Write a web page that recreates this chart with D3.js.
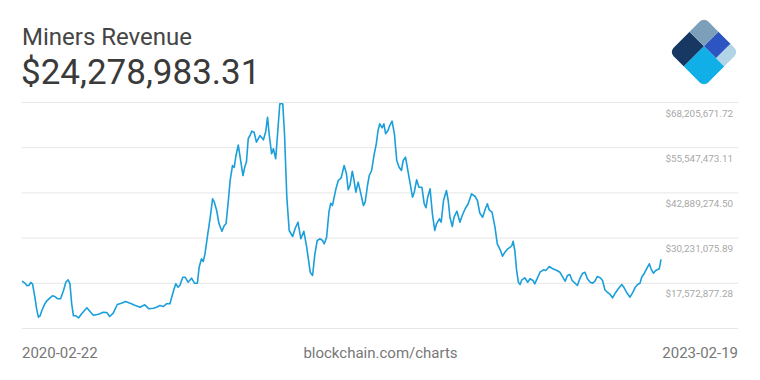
<!DOCTYPE html>
<html>
<head>
<meta charset="utf-8">
<script src="https://cdn.jsdelivr.net/npm/d3@7"></script>
<style>
  html, body { margin: 0; padding: 0; background: #fff; }
  svg { display: block; font-family: Roboto, "Noto Sans", sans-serif; }
</style>
</head>
<body>
<svg id="chart" width="760" height="380"></svg>
<script>
const title = "Miners Revenue";
const currentValue = "$24,278,983.31";
const startLabel = "2020-02-22";
const endLabel = "2023-02-19";
const sourceLabel = "blockchain.com/charts";

const yMin = 4914678.67;
const tickValues = [17572877.28, 30231075.89, 42889274.50, 55547473.11, 68205671.72];
const tickLabels = ["$17,572,877.28", "$30,231,075.89", "$42,889,274.50", "$55,547,473.11", "$68,205,671.72"];

const dates = [
"2020-02-22","2020-02-27","2020-03-02","2020-03-05","2020-03-08","2020-03-11","2020-03-15","2020-03-18","2020-03-21","2020-03-24",
"2020-03-27","2020-04-01","2020-04-04","2020-04-10","2020-04-14","2020-04-18","2020-04-23","2020-04-28","2020-05-03","2020-05-07",
"2020-05-11","2020-05-14","2020-05-17","2020-05-20","2020-05-24","2020-05-29","2020-06-03","2020-06-12","2020-06-17","2020-06-23",
"2020-06-30","2020-07-04","2020-07-10","2020-07-16","2020-07-21","2020-07-27","2020-08-03","2020-08-10","2020-08-17","2020-08-25",
"2020-09-02","2020-09-11","2020-09-19","2020-09-26","2020-10-04","2020-10-09","2020-10-15","2020-10-21","2020-10-26","2020-11-01",
"2020-11-07","2020-11-11","2020-11-15","2020-11-18","2020-11-23","2020-11-27","2020-12-02","2020-12-08","2020-12-13","2020-12-18",
"2020-12-21","2020-12-25","2020-12-28","2020-12-31","2021-01-04","2021-01-09","2021-01-13","2021-01-16","2021-01-20","2021-01-24",
"2021-01-29","2021-02-02","2021-02-05","2021-02-09","2021-02-12","2021-02-16","2021-02-19","2021-02-22","2021-02-26","2021-03-02",
"2021-03-06","2021-03-09","2021-03-12","2021-03-15","2021-03-18","2021-03-21","2021-03-25","2021-03-29","2021-04-04","2021-04-10",
"2021-04-14","2021-04-17","2021-04-20","2021-04-24","2021-04-27","2021-05-01","2021-05-05","2021-05-08","2021-05-13","2021-05-16",
"2021-05-20","2021-05-24","2021-05-30","2021-06-03","2021-06-08","2021-06-13","2021-06-18","2021-06-23","2021-06-29","2021-07-03",
"2021-07-07","2021-07-11","2021-07-16","2021-07-20","2021-07-23","2021-07-27","2021-07-31","2021-08-03","2021-08-06","2021-08-12",
"2021-08-16","2021-08-21","2021-08-26","2021-08-30","2021-09-02","2021-09-05","2021-09-09","2021-09-12","2021-09-15","2021-09-19",
"2021-09-23","2021-09-28","2021-10-01","2021-10-05","2021-10-08","2021-10-12","2021-10-16","2021-10-20","2021-10-23","2021-10-26",
"2021-10-30","2021-11-02","2021-11-05","2021-11-09","2021-11-12","2021-11-16","2021-11-20","2021-11-24","2021-11-28","2021-12-02",
"2021-12-05","2021-12-09","2021-12-13","2021-12-17","2021-12-21","2021-12-24","2021-12-28","2022-01-01","2022-01-06","2022-01-10",
"2022-01-13","2022-01-16","2022-01-20","2022-01-24","2022-01-28","2022-01-31","2022-02-05","2022-02-08","2022-02-12","2022-02-17",
"2022-02-20","2022-02-23","2022-02-27","2022-03-02","2022-03-07","2022-03-12","2022-03-16","2022-03-21","2022-03-26","2022-04-01",
"2022-04-07","2022-04-11","2022-04-15","2022-04-20","2022-04-24","2022-04-28","2022-05-01","2022-05-06","2022-05-11","2022-05-15",
"2022-05-20","2022-05-24","2022-05-28","2022-06-02","2022-06-06","2022-06-09","2022-06-11","2022-06-14","2022-06-17","2022-06-20",
"2022-06-23","2022-06-26","2022-07-01","2022-07-06","2022-07-10","2022-07-15","2022-07-18","2022-07-22","2022-07-27","2022-08-02",
"2022-08-06","2022-08-12","2022-08-18","2022-08-25","2022-08-30","2022-09-04","2022-09-08","2022-09-12","2022-09-16","2022-09-20",
"2022-09-25","2022-09-29","2022-10-03","2022-10-08","2022-10-12","2022-10-16","2022-10-21","2022-10-25","2022-10-29","2022-11-02",
"2022-11-07","2022-11-11","2022-11-15","2022-11-19","2022-11-24","2022-11-28","2022-12-02","2022-12-08","2022-12-14","2022-12-18",
"2022-12-22","2022-12-28","2023-01-02","2023-01-06","2023-01-10","2023-01-14","2023-01-17","2023-01-21","2023-01-24","2023-01-27",
"2023-01-30","2023-02-02","2023-02-06","2023-02-10","2023-02-16","2023-02-19"
];

// Miners revenue, millions of USD
const revenue = [
18.16,17.60,16.87,17.04,17.80,17.43,13.68,10.43,8.08,8.47,
9.96,11.83,12.56,13.51,14.07,13.88,13.23,13.23,15.56,17.88,
18.55,17.43,11.83,8.47,8.47,7.91,9.03,10.71,9.76,8.64,
8.84,9.03,9.48,9.40,8.28,9.20,11.64,12.00,12.48,12.00,
11.44,10.88,11.55,10.43,10.60,10.88,11.36,11.08,11.83,11.83,
15.36,17.43,16.48,16.96,19.28,19.28,17.88,19.00,17.60,17.60,
22.08,24.43,23.68,25.83,30.48,36.08,41.24,40.28,37.96,34.24,
32.16,33.76,34.24,40.76,46.36,50.56,50.00,53.36,56.30,51.96,
47.76,50.09,51.68,58.12,58.96,60.17,59.89,57.09,58.96,57.76,
60.17,64.09,58.96,53.84,55.24,52.44,61.29,67.84,67.84,59.44,
41.69,32.36,30.68,32.84,34.68,30.04,32.16,27.68,20.68,19.76,
25.83,29.56,30.04,29.56,28.63,30.48,37.48,40.00,39.36,44.04,
46.36,47.12,50.56,48.24,43.76,44.96,48.97,46.36,43.09,45.89,
43.09,39.36,40.28,44.96,47.76,49.16,53.36,56.64,60.36,62.24,
61.12,62.24,59.44,60.36,61.76,62.97,59.44,51.96,50.09,49.16,
51.96,52.89,49.16,45.44,41.69,43.09,46.56,44.49,44.49,39.84,
38.72,41.69,44.04,37.04,32.36,34.24,35.64,34.68,40.76,43.56,
40.76,36.08,33.48,36.08,37.76,34.68,36.56,38.44,39.78,42.64,
41.88,40.76,37.26,36.08,38.16,39.84,38.16,37.48,33.28,28.63,
26.95,25.16,26.28,27.23,27.68,28.16,29.36,26.76,21.16,17.88,
17.24,18.55,19.11,17.88,18.83,18.36,17.43,18.83,20.68,21.35,
21.16,22.28,21.63,21.16,20.68,19.28,18.16,19.76,20.04,18.36,
17.60,16.96,18.83,20.40,20.68,18.83,17.88,17.60,18.16,19.48,
19.11,18.36,15.75,15.08,14.44,13.51,14.63,16.03,17.24,16.31,
15.08,13.68,15.08,16.48,17.24,17.60,19.28,20.23,21.16,22.08,
23.03,21.63,20.40,21.16,21.63,24.278983
];

const parse = d3.timeParse("%Y-%m-%d");
const data = dates.map((d, i) => ({ date: parse(d), value: revenue[i] * 1e6 }));

const svg = d3.select("#chart");

const x = d3.scaleTime()
  .domain([parse(startLabel), parse(endLabel)])
  .range([22, 661]);
const y = d3.scaleLinear()
  .domain([yMin, tickValues[tickValues.length - 1]])
  .range([328.5, 102.5]);

// Gridlines
const gridVals = [yMin].concat(tickValues);
svg.append("g").selectAll("line")
  .data(gridVals).join("line")
  .attr("x1", 22).attr("x2", 738)
  .attr("y1", d => y(d)).attr("y2", d => y(d))
  .attr("stroke", "#e6e6e6").attr("stroke-width", 1);

// Tick labels
svg.append("g").selectAll("text")
  .data(tickValues).join("text")
  .attr("x", 733)
  .attr("y", d => y(d) + 14)
  .attr("text-anchor", "end")
  .attr("font-size", 9.9)
  .attr("fill", "#a8a8a8")
  .text((d, i) => tickLabels[i]);

// Line
const line = d3.line().x(d => x(d.date)).y(d => y(d.value));
svg.append("path")
  .datum(data)
  .attr("d", line)
  .attr("fill", "none")
  .attr("stroke", "#1a9fda")
  .attr("stroke-width", 1.6)
  .attr("stroke-linejoin", "round");

// Titles
svg.append("text").attr("x", 22).attr("y", 45)
  .attr("font-size", 24).attr("fill", "#454545").text(title);
svg.append("text").attr("x", 21).attr("y", 84)
  .attr("font-size", 35).attr("fill", "#3a3a3a").text(currentValue);

// Bottom labels
svg.append("text").attr("x", 22).attr("y", 358)
  .attr("font-size", 15).attr("fill", "#777").text(startLabel);
svg.append("text").attr("x", 380.5).attr("y", 358)
  .attr("text-anchor", "middle")
  .attr("font-size", 15).attr("fill", "#777").text(sourceLabel);
svg.append("text").attr("x", 738).attr("y", 358)
  .attr("text-anchor", "end")
  .attr("font-size", 15).attr("fill", "#777").text(endLabel);

// Logo
const defs = svg.append("defs");
defs.append("clipPath").attr("id", "logoClip")
  .append("rect").attr("x", -24.5).attr("y", -24.5)
  .attr("width", 49).attr("height", 49).attr("rx", 6);
const logo = svg.append("g")
  .attr("transform", "translate(704,52) rotate(45)")
  .attr("clip-path", "url(#logoClip)");
const cells = [
  { x0: -25, x1: -4, y0: -4, y1: 25, c: "#163863" },
  { x0: -25, x1: -4, y0: -25, y1: -4, c: "#7ca0b9" },
  { x0: -4, x1: 13, y0: -25, y1: -4, c: "#2c55c2" },
  { x0: 13, x1: 25, y0: -25, y1: -4, c: "#b3d4e7" },
  { x0: -4, x1: 25, y0: -4, y1: 25, c: "#10afe7" }
];
logo.selectAll("rect").data(cells).join("rect")
  .attr("x", d => d.x0).attr("y", d => d.y0)
  .attr("width", d => d.x1 - d.x0).attr("height", d => d.y1 - d.y0)
  .attr("fill", d => d.c);
</script>
</body>
</html>
